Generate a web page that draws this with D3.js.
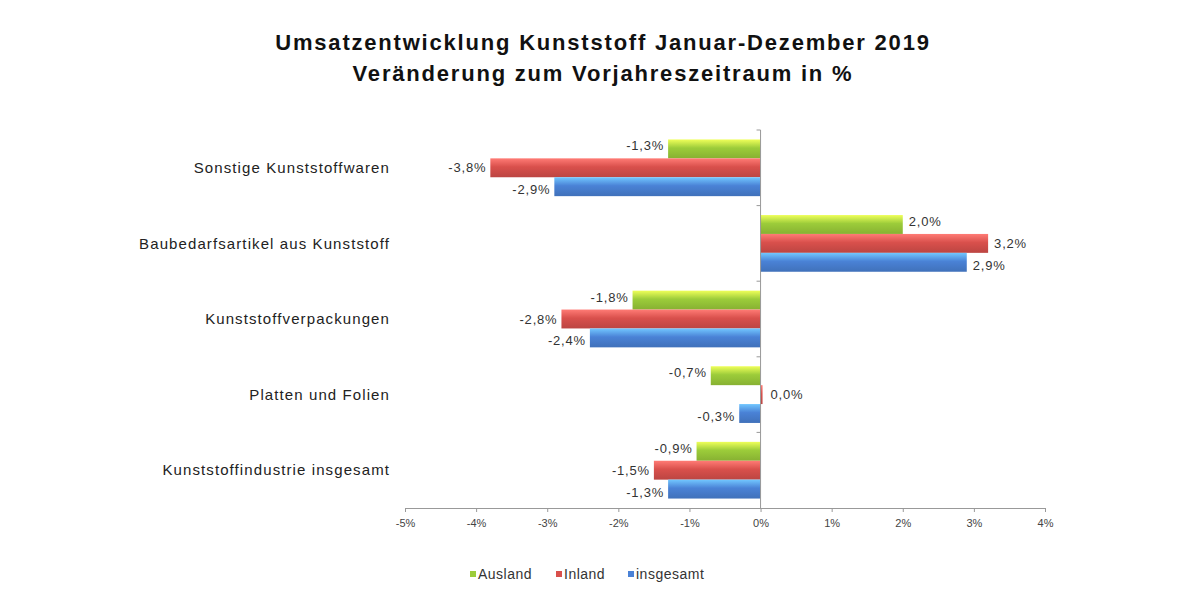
<!DOCTYPE html>
<html>
<head>
<meta charset="utf-8">
<script src="https://cdn.jsdelivr.net/npm/d3@7"></script>
<style>
body { margin: 0; background: #fff; }
text { font-family: "Liberation Sans", Arial, sans-serif; }
</style>
</head>
<body>
<svg width="1200" height="599"></svg>
<script>
const categories = ['Sonstige Kunststoffwaren', 'Baubedarfsartikel aus Kunststoff', 'Kunststoffverpackungen', 'Platten und Folien', 'Kunststoffindustrie insgesamt']
const seriesNames = ['Ausland', 'Inland', 'insgesamt']
const ausland = [-1.3, 2.0, -1.8, -0.7, -0.9]
const inland = [-3.8, 3.2, -2.8, 0.0, -1.5]
const insgesamt = [-2.9, 2.9, -2.4, -0.3, -1.3]
const xTicks = [-5, -4, -3, -2, -1, 0, 1, 2, 3, 4]
const colors = ['#9ccc3a', '#d9504c', '#4a82d6']
const series = [ausland, inland, insgesamt]

const svg = d3.select('svg')
svg.append('text').attr('x', 603).attr('y', 50).attr('text-anchor', 'middle')
    .attr('font-size', 22).attr('font-weight', 'bold').attr('fill', '#111').attr('letter-spacing', 1.8)
    .text('Umsatzentwicklung Kunststoff Januar-Dezember 2019')
svg.append('text').attr('x', 603).attr('y', 81).attr('text-anchor', 'middle')
    .attr('font-size', 22).attr('font-weight', 'bold').attr('fill', '#111').attr('letter-spacing', 1.8)
    .text('Veränderung zum Vorjahreszeitraum in %')

const x = d3.scaleLinear().domain([-5, 4]).range([405, 1045])
const y = d3.scaleBand().domain(categories).range([130, 508])
const inner = d3.scaleBand().domain(d3.range(3)).range([0, y.bandwidth()]).paddingOuter(0.5)

// x axis
const xAxis = svg.append('g').attr('transform', 'translate(0,508)')
    .call(d3.axisBottom(x).tickValues(xTicks).tickSize(4).tickFormat(d => d + '%'))
xAxis.select('.domain').attr('stroke', '#999')
xAxis.selectAll('line').attr('stroke', '#999')
xAxis.selectAll('text').attr('font-size', 11).attr('fill', '#444').attr('dy', '1.1em')

const defs = svg.append('defs')
colors.forEach((c, i) => {
    const g = defs.append('linearGradient').attr('id', 'g' + i).attr('x1', 0).attr('x2', 0).attr('y1', 0).attr('y2', 1)
    g.append('stop').attr('offset', '0%').attr('stop-color', d3.color(c).brighter(1.2))
    g.append('stop').attr('offset', '45%').attr('stop-color', c)
    g.append('stop').attr('offset', '100%').attr('stop-color', d3.color(c).darker(0.4))
})

categories.forEach((cat, ci) => {
    series.forEach((vals, si) => {
        const v = vals[ci]
        const y0 = y(cat) + inner(si)
        const h = inner.bandwidth()
        svg.append('rect')
            .attr('x', x(Math.min(0, v))).attr('y', y0)
            .attr('width', Math.max(Math.abs(x(v) - x(0)), 2)).attr('height', h)
            .attr('fill', `url(#g${si})`)
        const label = v.toFixed(1).replace('.', ',') + '%'
        svg.append('text')
            .attr('x', v < 0 ? x(v) - 4 : x(v) + 6 + (v === 0 ? 4 : 0))
            .attr('y', y0 + h / 2 + (si === 0 ? -3 : si === 2 ? 3 : 0))
            .attr('dy', '0.35em').attr('text-anchor', v < 0 ? 'end' : 'start')
            .attr('font-size', 13).attr('letter-spacing', 0.8).attr('fill', '#333').text(label)
    })
    svg.append('text').attr('x', 390).attr('y', y(cat) + y.bandwidth() / 2)
        .attr('dy', '0.35em').attr('text-anchor', 'end')
        .attr('font-size', 15).attr('letter-spacing', 1.1).attr('fill', '#222').text(cat)
})

// vertical zero axis
svg.append('line').attr('x1', x(0)).attr('x2', x(0)).attr('y1', 130).attr('y2', 508).attr('stroke', '#999')
svg.selectAll('.ytick').data(y.domain()).join('line')
    .attr('x1', x(0) - 4).attr('x2', x(0)).attr('y1', d => y(d)).attr('y2', d => y(d)).attr('stroke', '#999')

// legend
const lx = [470, 556, 628]
seriesNames.forEach((n, i) => {
    svg.append('rect').attr('x', lx[i]).attr('y', 571).attr('width', 6).attr('height', 6).attr('fill', colors[i])
    svg.append('text').attr('x', lx[i] + 8).attr('y', 574).attr('dy', '0.35em')
        .attr('font-size', 14).attr('letter-spacing', 0.5).attr('fill', '#333').text(n)
})
</script>
</body>
</html>
